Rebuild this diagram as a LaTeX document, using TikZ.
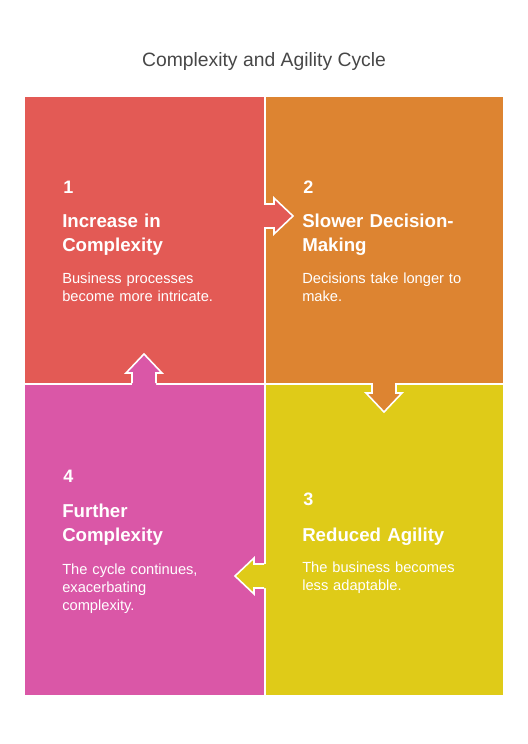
\documentclass[tikz,border=0pt]{standalone}
\usepackage{fontspec}
\setmainfont{Liberation Sans}
\usetikzlibrary{positioning}
\definecolor{redq}{HTML}{E35A55}
\definecolor{orangeq}{HTML}{DD8431}
\definecolor{yellowq}{HTML}{DFCB18}
\definecolor{pinkq}{HTML}{DA57A7}
\definecolor{titlegray}{HTML}{474747}

\begin{document}
\begin{tikzpicture}[x=0.75pt,y=-0.75pt,
  quad/.style={inner sep=0pt, anchor=north west, minimum width=179.25pt},
  num/.style={anchor=base west, inner sep=0pt, text=white, font=\fontsize{13.5}{15}\selectfont\bfseries},
  head/.style={anchor=base west, inner sep=0pt, text=white, text width=150pt, align=left, font=\fontsize{14}{18}\selectfont\bfseries},
  desc/.style={anchor=base west, inner sep=0pt, text=white, text width=160pt, align=left, font=\fontsize{11}{13.8}\selectfont},
  rim/.style={draw=white, line width=1.2pt, line join=miter}]

\useasboundingbox (0,0) rectangle (528,744);

\node[anchor=base, text=titlegray, font=\fontsize{14.5}{16}\selectfont] (title) at (264,66) {Complexity and Agility Cycle};

% the four blocks
\node[quad, fill=redq, minimum height=214.5pt] (q1) at (25,97) {};
\node[quad, fill=orangeq, minimum height=214.5pt] (q2) at (264,97) {};
\node[quad, fill=yellowq, minimum height=234pt] (q3) at (264,383) {};
\node[quad, fill=pinkq, minimum height=234pt] (q4) at (25,383) {};

\draw[white, line width=1.5pt] (q1.north east) -- (q4.south east);
\draw[white, line width=1.5pt] (q1.south west) -- (q2.south east);

% arrows between the blocks
\begin{scope}[shift={(264,216)}]
\fill[redq] (-3,-12) -- (10,-12) -- (10,-18) -- (29,0) -- (10,18) -- (10,12) -- (-3,12) -- cycle;
\draw[rim] (0,-12) -- (10,-12) -- (10,-18) -- (29,0) -- (10,18) -- (10,12) -- (0,12);
\end{scope}

\begin{scope}[shift={(384,383)}, rotate=-90]
\fill[orangeq] (-3,-12) -- (10,-12) -- (10,-18) -- (29,0) -- (10,18) -- (10,12) -- (-3,12) -- cycle;
\draw[rim] (0,-12) -- (10,-12) -- (10,-18) -- (29,0) -- (10,18) -- (10,12) -- (0,12);
\end{scope}

\begin{scope}[shift={(264,576)}, rotate=180]
\fill[yellowq] (-3,-12) -- (10,-12) -- (10,-18) -- (29,0) -- (10,18) -- (10,12) -- (-3,12) -- cycle;
\draw[rim] (0,-12) -- (10,-12) -- (10,-18) -- (29,0) -- (10,18) -- (10,12) -- (0,12);
\end{scope}

\begin{scope}[shift={(144,383)}, rotate=90]
\fill[pinkq] (-3,-12) -- (10,-12) -- (10,-18) -- (29,0) -- (10,18) -- (10,12) -- (-3,12) -- cycle;
\draw[rim] (0,-12) -- (10,-12) -- (10,-18) -- (29,0) -- (10,18) -- (10,12) -- (0,12);
\end{scope}

% texts
\node[num] (n1) at (63,193) {1};
\node[head] (h1) at (62,227) {Increase in\\Complexity};
\node[desc] (d1) at (62,283) {Business processes\\become more intricate.};

\node[num] (n2) at (303,193) {2};
\node[head] (h2) at (302,227) {Slower Decision-\\Making};
\node[desc] (d2) at (302,283) {Decisions take longer to\\make.};

\node[num] (n3) at (303,505) {3};
\node[head] (h3) at (302,541) {Reduced Agility};
\node[desc] (d3) at (302,572) {The business becomes\\less adaptable.};

\node[num] (n4) at (63,482) {4};
\node[head] (h4) at (62,517) {Further\\Complexity};
\node[desc] (d4) at (62,574) {The cycle continues,\\exacerbating\\complexity.};
\end{tikzpicture}
\end{document}
